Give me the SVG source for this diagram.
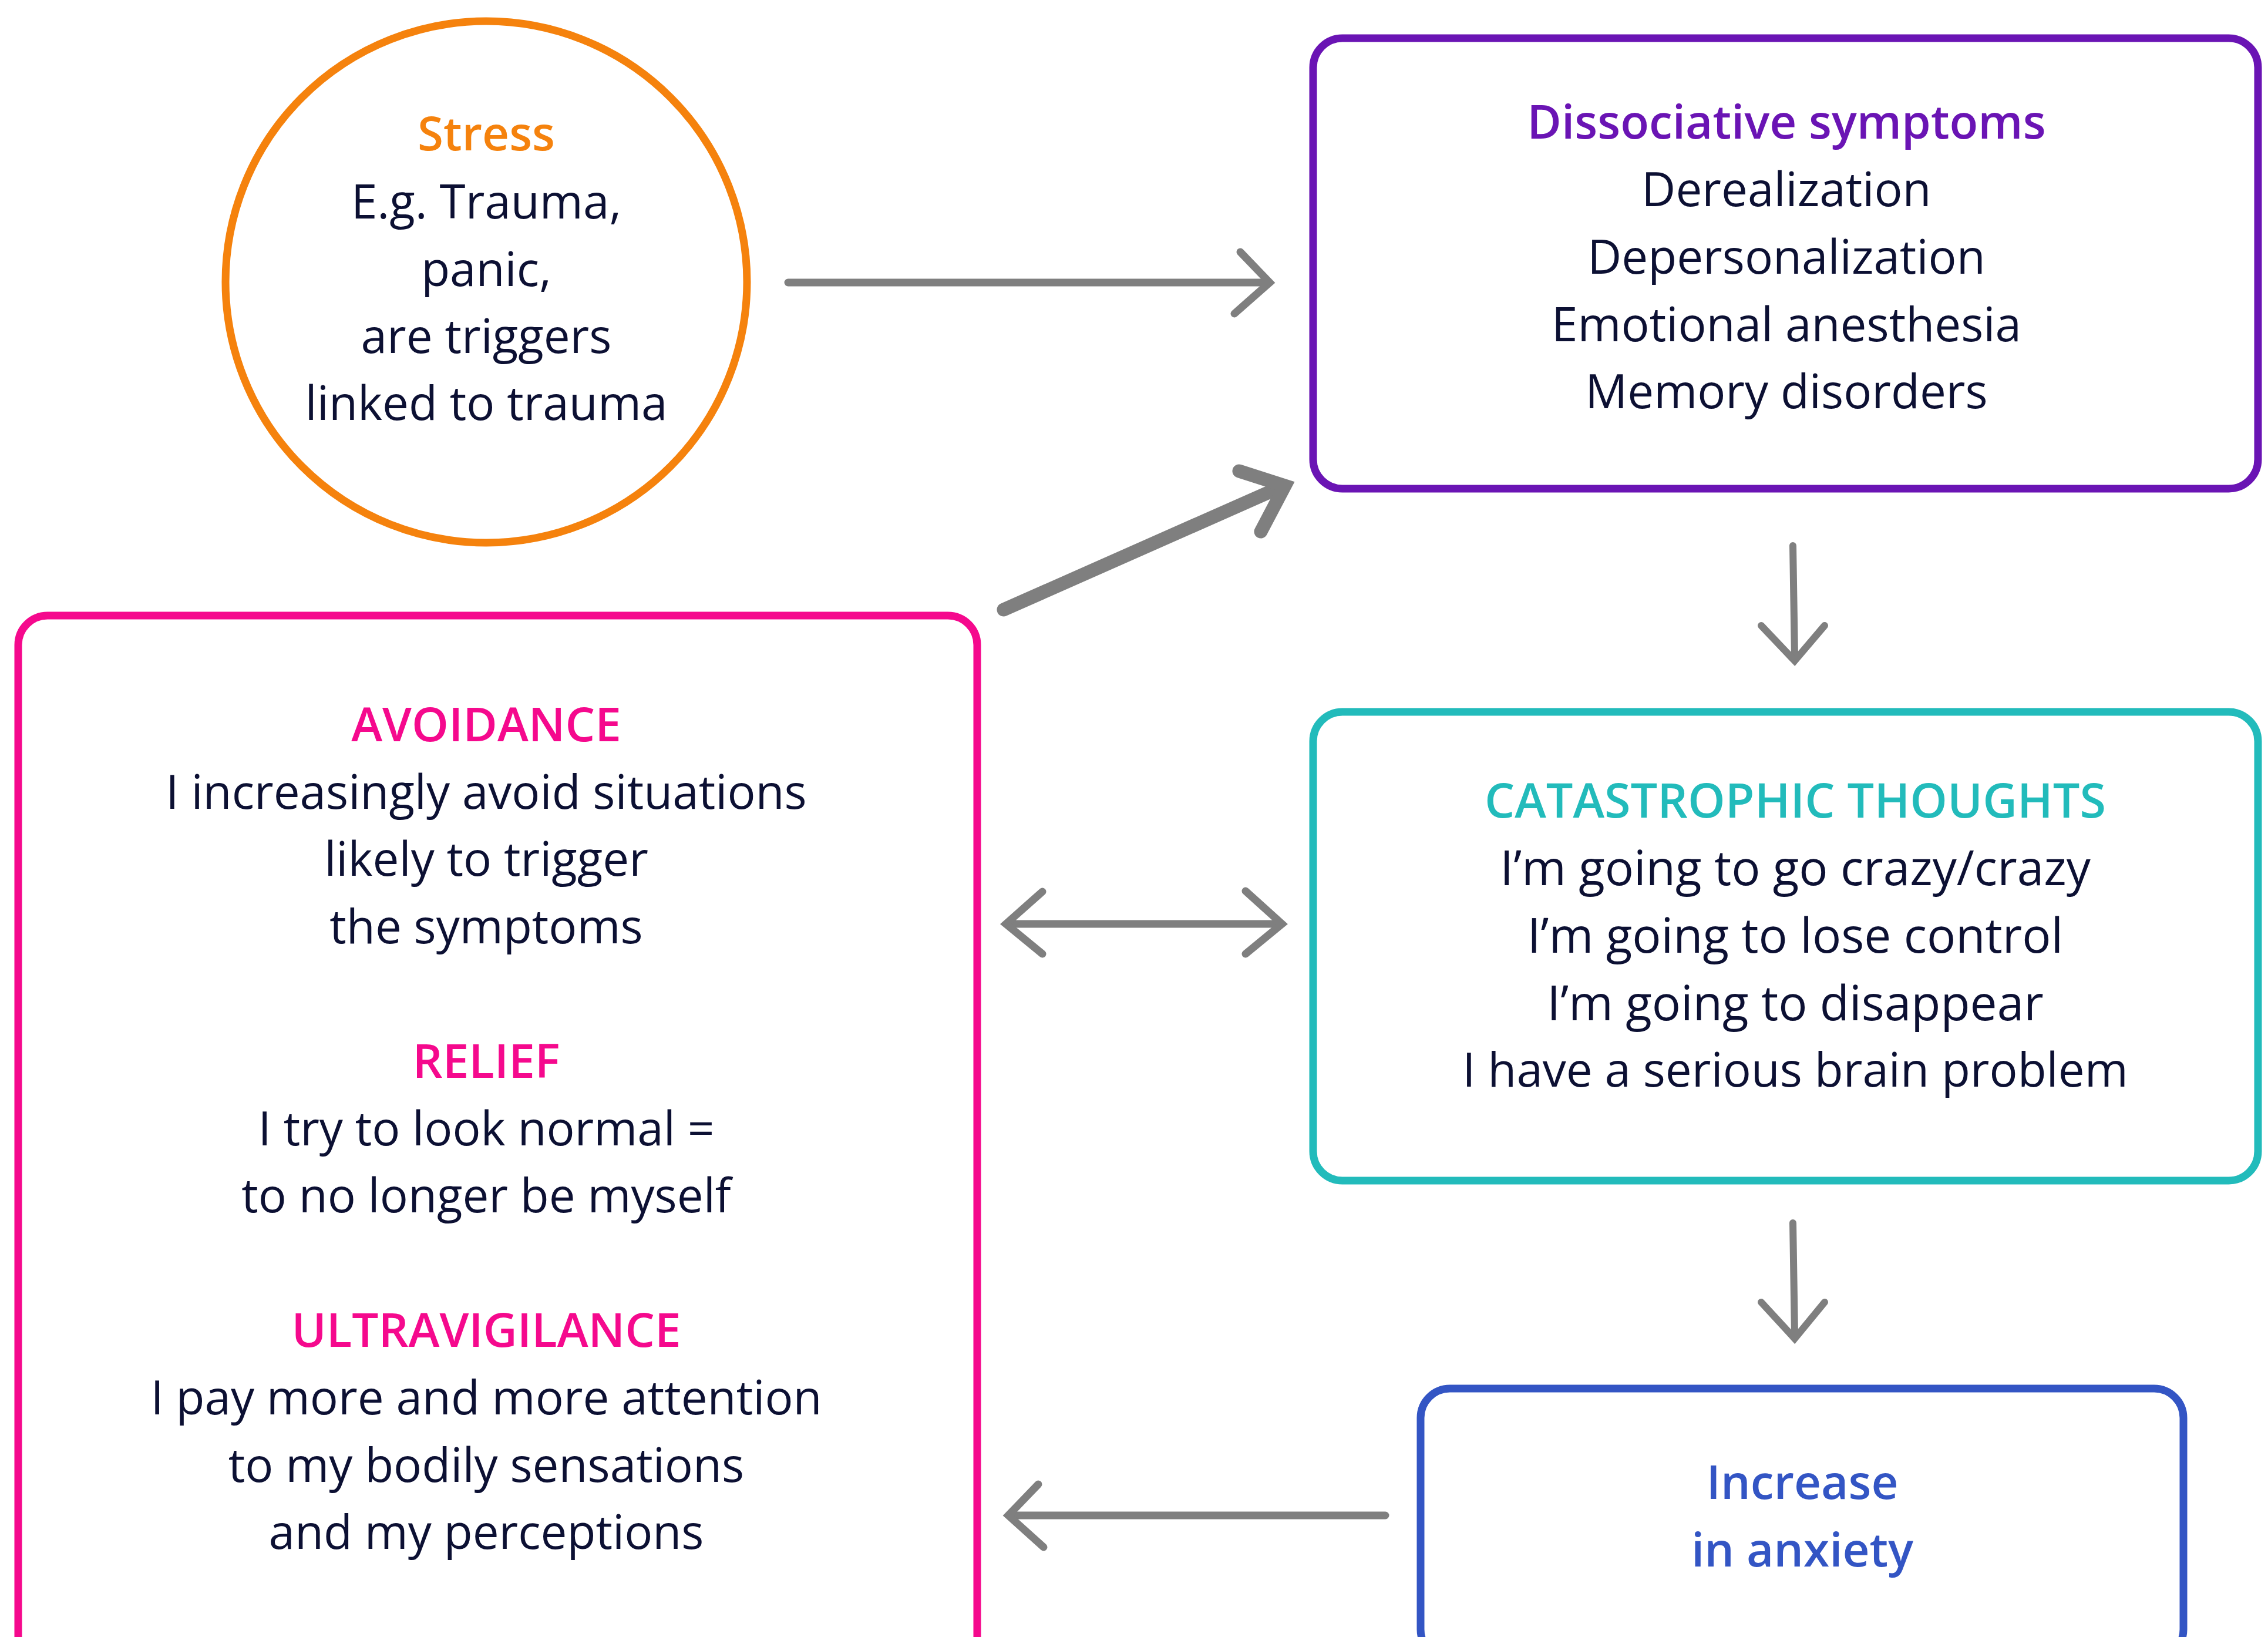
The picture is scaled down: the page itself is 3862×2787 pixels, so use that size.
<svg xmlns="http://www.w3.org/2000/svg" width="3862" height="2787" viewBox="0 0 3862 2787">
<style>
.t{font-family:"Open Sans","Noto Sans","Liberation Sans",sans-serif;font-size:80px;fill:#0C1033;text-anchor:middle}
.h{font-weight:600}
.c{fill:none;stroke:#7F7F7F;stroke-linecap:round;stroke-linejoin:miter}
.box{fill:#FFFFFF;stroke-width:13}
</style>
<rect width="3862" height="2787" fill="#FFFFFF"/>
<g id="stress">
<circle cx="828" cy="480" r="444" class="box" stroke="#F5820D"/>
<text class="t h" x="828" y="256" style="fill:#F5820D">Stress</text>
<text class="t" x="828" y="372">E.g. Trauma,</text>
<text class="t" x="828" y="487">panic,</text>
<text class="t" x="828" y="601">are triggers</text>
<text class="t" x="828" y="715">linked to trauma</text>
</g>
<g id="dissociative">
<rect x="2236" y="65" width="1609" height="767" rx="50" class="box" stroke="#6A14B4"/>
<text class="t h" x="3042" y="236" style="fill:#6A14B4">Dissociative symptoms</text>
<text class="t" x="3042" y="351">Derealization</text>
<text class="t" x="3042" y="466">Depersonalization</text>
<text class="t" x="3042" y="581">Emotional anesthesia</text>
<text class="t" x="3042" y="695">Memory disorders</text>
</g>
<g id="catastrophic">
<rect x="2236" y="1212" width="1609" height="798" rx="50" class="box" stroke="#22BBBB"/>
<text class="t h" x="3057" y="1392" style="fill:#22BBBB;font-size:81px">CATASTROPHIC THOUGHTS</text>
<text class="t" x="3057" y="1507" style="font-size:82px">I’m going to go crazy/crazy</text>
<text class="t" x="3057" y="1622" style="font-size:82px">I’m going to lose control</text>
<text class="t" x="3057" y="1737" style="font-size:82px">I’m going to disappear</text>
<text class="t" x="3057" y="1850">I have a serious brain problem</text>
</g>
<g id="anxiety">
<rect x="2419" y="2364" width="1299" height="460" rx="50" class="box" stroke="#3355C4"/>
<text class="t h" x="3069" y="2552" style="fill:#3355C4">Increase</text>
<text class="t h" x="3069" y="2667" style="fill:#3355C4">in anxiety</text>
</g>
<g id="behaviours">
<rect x="31" y="1048" width="1633" height="1790" rx="50" class="box" stroke="#F5098D" stroke-width="14"/>
<text class="t h" x="828" y="1262" style="fill:#F5098D">AVOIDANCE</text>
<text class="t" x="828" y="1377">I increasingly avoid situations</text>
<text class="t" x="828" y="1491">likely to trigger</text>
<text class="t" x="828" y="1606">the symptoms</text>
<text class="t h" x="828" y="1835" style="fill:#F5098D">RELIEF</text>
<text class="t" x="828" y="1950">I try to look normal =</text>
<text class="t" x="828" y="2064">to no longer be myself</text>
<text class="t h" x="828" y="2293" style="fill:#F5098D">ULTRAVIGILANCE</text>
<text class="t" x="828" y="2408">I pay more and more attention</text>
<text class="t" x="828" y="2523">to my bodily sensations</text>
<text class="t" x="828" y="2637">and my perceptions</text>
</g>
<g id="connectors">
<path class="c" stroke-width="13" d="M1342 481 H2155"/>
<path class="c" stroke-width="13" d="M2112 429 L2162 481 L2102 534"/>
<path class="c" stroke-width="23" d="M1709 1038 L2170 834"/>
<path class="c" stroke-width="23" d="M2110 802 L2188 827 L2147 905"/>
<path class="c" stroke-width="13" d="M1720 1573 H2177"/>
<path class="c" stroke-width="13" d="M1775 1518 L1713 1573 L1775 1624"/>
<path class="c" stroke-width="13" d="M2121 1517 L2183 1573 L2121 1624"/>
<path class="c" stroke-width="13" d="M2359 2580 H1723"/>
<path class="c" stroke-width="13" d="M1768 2527 L1717 2580 L1777 2634"/>
<path class="c" stroke-width="12" d="M3053 929 L3056 1118"/>
<path class="c" stroke-width="12" d="M2999 1065 L3056 1125 L3107 1065"/>
<path class="c" stroke-width="12" d="M3053 2082 L3056 2272"/>
<path class="c" stroke-width="12" d="M2999 2217 L3056 2279 L3107 2217"/>
</g>
</svg>
